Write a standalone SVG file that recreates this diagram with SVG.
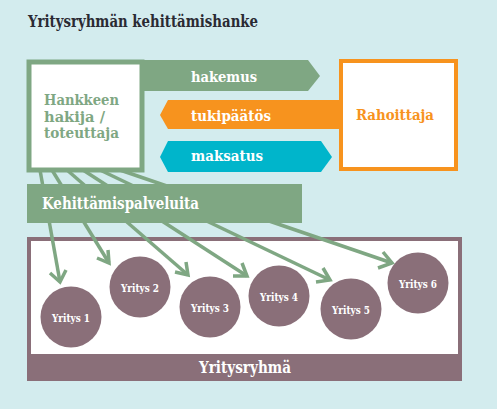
<svg xmlns="http://www.w3.org/2000/svg" width="497" height="409" viewBox="0 0 497 409">
<style>
text{font-family:"DejaVu Serif","Liberation Serif",serif;font-weight:bold}
.w{fill:#ffffff}
.band{font-size:15px}
.co{font-size:11px;text-anchor:middle;fill:#ffffff}
.conn line,.conn polyline{stroke:#7fa783;stroke-width:3.5;fill:none}
.circ{fill:#8a6f79}
.hk{font-size:14px;fill:#7fa783}
</style>
<rect width="497" height="409" fill="#d3ecee"/>
<text id="title" x="28" y="27" font-size="16" fill="#2a2a33" textLength="230" lengthAdjust="spacingAndGlyphs">Yritysryhmän kehittämishanke</text>

<g id="yritysryhma">
<rect x="27" y="237" width="435" height="144" fill="#8a6f79"/>
<rect x="31" y="241" width="427" height="113" fill="#ffffff"/>
<text class="w" x="245" y="373" font-size="16" text-anchor="middle" textLength="92" lengthAdjust="spacingAndGlyphs">Yritysryhmä</text>
</g>

<g id="yritys1"><circle class="circ" cx="71" cy="317" r="30.5"/><text class="co" x="71" y="322" textLength="38" lengthAdjust="spacingAndGlyphs">Yritys 1</text></g>
<g id="yritys2"><circle class="circ" cx="140" cy="287" r="30.5"/><text class="co" x="140" y="292" textLength="38" lengthAdjust="spacingAndGlyphs">Yritys 2</text></g>
<g id="yritys3"><circle class="circ" cx="210" cy="307" r="30.5"/><text class="co" x="210" y="312" textLength="38" lengthAdjust="spacingAndGlyphs">Yritys 3</text></g>
<g id="yritys4"><circle class="circ" cx="279" cy="296" r="30.5"/><text class="co" x="279" y="301" textLength="38" lengthAdjust="spacingAndGlyphs">Yritys 4</text></g>
<g id="yritys5"><circle class="circ" cx="351" cy="309" r="30.5"/><text class="co" x="351" y="314" textLength="38" lengthAdjust="spacingAndGlyphs">Yritys 5</text></g>
<g id="yritys6"><circle class="circ" cx="418" cy="283" r="30.5"/><text class="co" x="418" y="288" textLength="38" lengthAdjust="spacingAndGlyphs">Yritys 6</text></g>

<g id="conn" class="conn">
<line x1="40" y1="170" x2="60" y2="282"/>
<line x1="52" y1="170" x2="109" y2="263"/>
<line x1="67" y1="170" x2="188" y2="275"/>
<line x1="83" y1="170" x2="247" y2="276"/>
<line x1="100" y1="170" x2="330" y2="280"/>
<line x1="120" y1="170" x2="392" y2="263"/>
<polyline points="50,273 60,282 66,270"/>
<polyline points="97,258 109,263 108,250"/>
<polyline points="175,272 188,275 186,262"/>
<polyline points="233,276 247,276 242,263"/>
<polyline points="316,282 330,280 323,268"/>
<polyline points="378,268 392,263 383,252"/>
</g>

<g id="hankkeen">
<rect x="29" y="62" width="113" height="108" fill="#ffffff" stroke="#7fa783" stroke-width="5"/>
<text class="hk" x="44" y="105" textLength="75" lengthAdjust="spacingAndGlyphs">Hankkeen</text>
<text class="hk" x="44" y="121.5" textLength="61" lengthAdjust="spacingAndGlyphs">hakija /</text>
<text class="hk" x="44" y="138" textLength="75" lengthAdjust="spacingAndGlyphs">toteuttaja</text>
</g>

<g id="hakemus">
<polygon points="144,60 308,60 320,76 308,91 144,91" fill="#7fa783"/>
<text class="w band" x="191" y="82" textLength="66" lengthAdjust="spacingAndGlyphs">hakemus</text>
</g>

<g id="tukipaatos">
<polygon points="160,115 168,100 342,100 342,129 168,129" fill="#f7931e"/>
<text class="w band" x="191" y="121" textLength="80" lengthAdjust="spacingAndGlyphs">tukipäätös</text>
</g>

<g id="maksatus">
<polygon points="160,157 168,141 321,141 332,157 321,172 168,172" fill="#00b5cb"/>
<text class="w band" x="191" y="161" textLength="72" lengthAdjust="spacingAndGlyphs">maksatus</text>
</g>

<g id="rahoittaja">
<rect x="341" y="61" width="115" height="108" fill="#ffffff" stroke="#f7931e" stroke-width="4"/>
<text x="356" y="120" font-size="15" fill="#f7931e" textLength="78" lengthAdjust="spacingAndGlyphs">Rahoittaja</text>
</g>

<g id="kehittamispalveluita">
<rect x="27" y="184" width="275" height="39" fill="#7fa783"/>
<text class="w" x="42" y="209" font-size="16" textLength="157" lengthAdjust="spacingAndGlyphs">Kehittämispalveluita</text>
</g>
</svg>
